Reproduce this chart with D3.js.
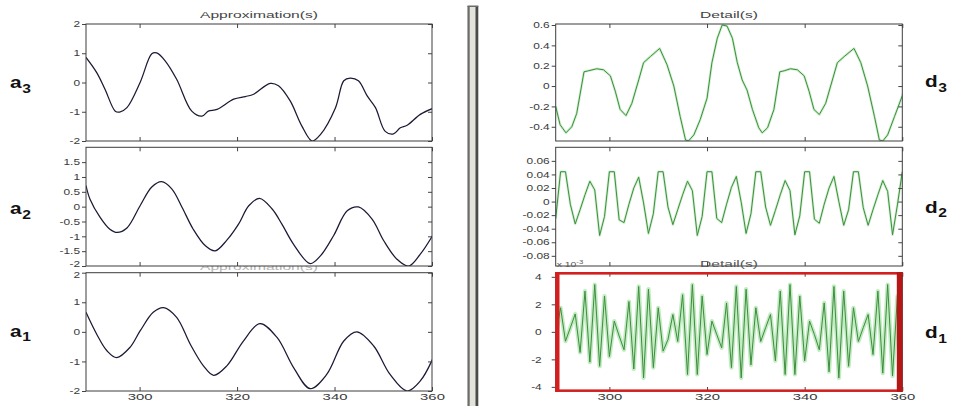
<!DOCTYPE html>
<html>
<head>
<meta charset="utf-8">
<script src="https://cdn.jsdelivr.net/npm/d3@7"></script>
<style>
  html, body { margin: 0; padding: 0; background: #fff; }
  svg { display: block; }
  .tick text { font-family: "Liberation Sans", Arial, sans-serif; font-size: 8.5px; fill: #3a3a3a; }
  .tick line { stroke: #444; }
</style>
</head>
<body>
<svg id="fig" width="969" height="406"></svg>
<script>
// ---- shared sample axis ----
const xDomain = [289, 360];
const xTicks = [300, 320, 340, 360];

// ---- approximation a3 ----
const a3T = [289, 291.2, 292.9, 295, 295.9, 297.4, 300.1, 302.5, 303.5, 305.2, 307.6, 310.7, 312.8, 314.1, 315.9, 319.3, 321.7, 323.4, 326.8, 328.5, 330.9, 333.3, 335.4, 337.1, 340.2, 341.9, 343.2, 344.9, 346.7, 348.4, 350.4, 352.1, 353.5, 354.9, 357.6, 360.1];
const a3V = [0.86, 0.34, -0.23, -0.98, -1.01, -0.86, 0, 0.98, 1.01, 0.75, 0.11, -0.98, -1.15, -0.98, -0.92, -0.57, -0.48, -0.40, -0.03, -0.11, -0.63, -1.49, -2.0, -1.78, -0.86, 0.06, 0.15, 0.06, -0.46, -0.86, -1.67, -1.76, -1.55, -1.46, -1.09, -0.89];
const a3Domain = [-2, 2];
const a3Ticks = [-2, -1, 0, 1, 2];

// ---- approximation a2 ----
const a2T = [289, 289.8, 291.9, 293.9, 295.4, 297.4, 300.1, 302.5, 304.5, 306.6, 308.7, 311, 313.5, 315.5, 317.9, 320.3, 322.4, 324.6, 327.2, 329.2, 331.6, 335, 337.1, 339.8, 342.6, 344.9, 347.7, 350.1, 352.8, 355.2, 357.6, 360.1];
const a2V = [0.71, 0.26, -0.36, -0.76, -0.87, -0.72, 0.03, 0.66, 0.84, 0.60, -0.02, -0.76, -1.32, -1.49, -1.13, -0.59, 0.03, 0.28, -0.08, -0.59, -1.27, -1.92, -1.66, -0.98, -0.14, -0.01, -0.42, -1.15, -1.77, -2.0, -1.60, -0.98];
const a2Domain = [-2, 2];
const a2Ticks = [-2, -1.5, -1, -0.5, 0, 0.5, 1, 1.5];

// ---- approximation a1 ----
const a1T = [289, 291.2, 293.3, 295.3, 298, 300.1, 302.8, 304.9, 307.6, 310.4, 313.1, 315.2, 317.9, 321.3, 324.7, 328.2, 331.6, 335, 338.4, 341.9, 344.6, 348, 351.4, 354.9, 357.6, 360.1];
const a1V = [0.66, -0.08, -0.64, -0.87, -0.53, 0.03, 0.66, 0.82, 0.49, -0.42, -1.15, -1.47, -1.15, -0.31, 0.28, -0.19, -1.21, -1.92, -1.44, -0.31, 0.0, -0.47, -1.44, -2.0, -1.66, -0.93];
const a1Domain = [-2, 2];
const a1Ticks = [-2, -1, 0, 1, 2];

// ---- detail d3 ----
const d3T = [289, 289.9, 291.1, 292.3, 293.3, 294.8, 295.7, 297.4, 298.8, 300.2, 301.2, 302.2, 303.4, 304.6, 306, 307, 308.4, 310.3, 311.8, 313.2, 314.5, 315.6, 316.2, 317.3, 318.6, 320, 321, 322.1, 323.1, 324.1, 325.2, 326.2, 327.2, 328.2, 329.3, 330.6, 331.3, 332.4, 333.7, 334.9, 335.8, 337.1, 338.5, 339.9, 340.9, 341.9, 343, 344.3, 346.7, 348.1, 350.1, 351.5, 352.9, 354.3, 355.3, 356, 357, 358.4, 360.2];
const d3V = [-0.20, -0.38, -0.46, -0.40, -0.27, 0.14, 0.15, 0.17, 0.16, 0.10, -0.05, -0.23, -0.29, -0.17, 0.06, 0.23, 0.29, 0.37, 0.21, 0.0, -0.30, -0.53, -0.54, -0.48, -0.33, -0.12, 0.23, 0.47, 0.60, 0.59, 0.47, 0.23, 0.06, -0.04, -0.23, -0.41, -0.46, -0.41, -0.23, 0.14, 0.15, 0.17, 0.16, 0.10, -0.05, -0.23, -0.28, -0.17, 0.23, 0.29, 0.37, 0.23, 0.0, -0.30, -0.53, -0.54, -0.48, -0.30, -0.07];
const d3Domain = [-0.54, 0.61];
const d3Ticks = [-0.4, -0.2, 0, 0.2, 0.4, 0.6];

// ---- detail d2 (one value per sample 289..360) ----
const d2V = [-0.025, 0.044, 0.044, -0.004, -0.033, -0.012, 0.010, 0.030, 0.017, -0.050,
             -0.022, 0.044, 0.044, -0.027, -0.031, -0.004, 0.020, 0.036, -0.002, -0.047,
             -0.018, 0.044, 0.044, -0.008, -0.034, -0.012, 0.010, 0.030, 0.016, -0.050,
             -0.022, 0.044, 0.044, -0.025, -0.031, -0.004, 0.021, 0.037, -0.001, -0.047,
             -0.018, 0.044, 0.044, -0.008, -0.035, -0.013, 0.010, 0.031, 0.016, -0.049,
             -0.021, 0.044, 0.044, -0.026, -0.032, -0.004, 0.020, 0.037, 0.000, -0.035,
             -0.012, 0.044, 0.044, -0.009, -0.035, -0.012, 0.010, 0.031, 0.015, -0.049,
             -0.005, 0.044];
const d2Domain = [-0.095, 0.08];
const d2Ticks = [-0.08, -0.06, -0.04, -0.02, 0, 0.02, 0.04, 0.06];

// ---- detail d1 (x 10^-3, one value per sample 289..360) ----
const d1V = [-0.3, 1.75, -0.68, 0.3, 1.3, -1.5, 2.96, -2.2, 3.44, -2.5,
             2.6, -1.8, 0.78, -0.3, -1.3, 2.2, -2.7, 3.3, -3.35, 3.1,
             -2.6, 1.75, -1.4, -0.56, 1.26, -0.7, 2.7, -3.1, 3.44, -3.1,
             2.6, -1.65, 0.78, -0.2, -1.16, 2.1, -2.6, 3.3, -3.35, 3.1,
             -2.4, 1.75, -0.7, 0.3, 1.26, -2.1, 2.96, -3.1, 3.44, -3.1,
             2.6, -2.1, 0.78, -0.2, -1.3, 2.1, -2.9, 3.3, -3.35, 2.96,
             -2.5, 1.75, -0.7, 0.3, 1.26, -1.65, 2.96, -3.0, 3.44, -3.2,
             2.6, -1.8];
const d1Domain = [-4.3, 4.3];
const d1Ticks = [-4, -2, 0, 2, 4];

const sampleT = d3.range(289, 361);

// ---------------------------------------------------------------
const svg = d3.select("#fig");
const defs = svg.append("defs");
const LABEL_SX = 1.4;    // horizontal stretch of tick labels
const XLABEL_SX = 1.75;

const fmt = d => String(d);

function stretchText(sel, sx) {
  sel.each(function () {
    const t = d3.select(this);
    const x = +t.attr("x") || 0;
    t.attr("x", x / sx).attr("transform", `scale(${sx},1)`);
  });
}

let clipId = 0;
function panel(opt) {
  const { x0, x1, y0, y1, yDomain, yTicks, showX, labelPad, nudge } = opt;
  const g = svg.append("g");
  const x = d3.scaleLinear().domain(xDomain).range([x0, x1]);
  const y = d3.scaleLinear().domain(yDomain).range([y1, y0]);

  g.append("rect").attr("x", x0).attr("y", y0).attr("width", x1 - x0).attr("height", y1 - y0)
    .attr("fill", "#fff");

  const id = "clip" + (clipId++);
  defs.append("clipPath").attr("id", id).append("rect")
    .attr("x", x0).attr("y", y0).attr("width", x1 - x0).attr("height", y1 - y0);
  const plot = g.append("g").attr("clip-path", `url(#${id})`);

  // left axis: outward ticks + labels
  const left = g.append("g").attr("transform", `translate(${x0},0)`)
    .call(d3.axisLeft(y).tickValues(yTicks).tickSize(4).tickPadding(labelPad || 2).tickFormat(fmt));
  left.select(".domain").remove();
  stretchText(left.selectAll("text"), LABEL_SX);
  if (nudge) {
    // keep the end labels of stacked panels apart
    left.selectAll("text").attr("dy", d => d === yTicks[0] ? (nudge.bottom || "0.32em") :
      d === yTicks[yTicks.length - 1] ? (nudge.top || "0.32em") : "0.32em");
  }

  // right axis: inward ticks only
  const right = g.append("g").attr("transform", `translate(${x1},0)`)
    .call(d3.axisRight(y).tickValues(yTicks).tickSize(-4).tickFormat(""));
  right.select(".domain").remove();

  // top axis: inward ticks
  const top = g.append("g").attr("transform", `translate(0,${y0})`)
    .call(d3.axisTop(x).tickValues(xTicks).tickSize(-4).tickFormat(""));
  top.select(".domain").remove();

  // bottom axis: inward ticks, labels on the lowest row
  const bottom = g.append("g").attr("transform", `translate(0,${y1})`)
    .call(d3.axisBottom(x).tickValues(xTicks).tickSize(-4).tickPadding(3)
      .tickFormat(showX ? fmt : ""));
  bottom.select(".domain").remove();
  stretchText(bottom.selectAll("text"), XLABEL_SX);

  g.append("rect").attr("x", x0).attr("y", y0).attr("width", x1 - x0).attr("height", y1 - y0)
    .attr("fill", "none").attr("stroke", "#3c3c3c").attr("stroke-width", 1);

  return { g, plot, x, y };
}

function title(text, cx, base, len, color) {
  svg.append("text").attr("x", cx).attr("y", base)
    .attr("text-anchor", "middle")
    .attr("font-family", "Liberation Sans, Arial, sans-serif")
    .attr("font-size", 9).attr("fill", color || "#444")
    .attr("textLength", len).attr("lengthAdjust", "spacingAndGlyphs")
    .text(text);
}

function rowLabel(letter, sub, x, base) {
  const t = svg.append("text")
    .attr("transform", `translate(${x},${base}) scale(1.3,1)`)
    .attr("font-family", "Liberation Sans, Arial, sans-serif")
    .attr("font-weight", "bold").attr("fill", "#111");
  t.append("tspan").attr("font-size", 16).text(letter);
  t.append("tspan").attr("font-size", 12).attr("dy", 4.5).attr("dx", 0.5).text(sub);
}

const LX0 = 86, LX1 = 432, RX0 = 555.7, RX1 = 902.3;
const ROWS = [[24, 141], [147.3, 266], [272.7, 391]];

function smoothLine(p, T, V) {
  const line = d3.line().x((d, i) => p.x(T[i])).y(d => p.y(d)).curve(d3.curveCatmullRom.alpha(0.5));
  p.plot.append("path").datum(V).attr("d", line)
    .attr("fill", "none").attr("stroke", "#1a1a36").attr("stroke-width", 1.25)
    .attr("stroke-linejoin", "round");
}

function greenLine(p, T, V, haloW, haloOp) {
  const line = d3.line().x((d, i) => p.x(T[i])).y(d => p.y(d));
  p.plot.append("path").datum(V).attr("d", line)
    .attr("fill", "none").attr("stroke", "#a6e2a6").attr("stroke-width", haloW)
    .attr("stroke-opacity", haloOp).attr("stroke-linejoin", "round");
  p.plot.append("path").datum(V).attr("d", line)
    .attr("fill", "none").attr("stroke", "#3e8c3e").attr("stroke-width", 1)
    .attr("stroke-linejoin", "round");
}

// ---------------- left column (approximations) ----------------
const pa1 = panel({ x0: LX0, x1: LX1, y0: ROWS[2][0], y1: ROWS[2][1], yDomain: a1Domain, yTicks: a1Ticks, showX: true, nudge: { top: "0.55em" } });
smoothLine(pa1, a1T, a1V);
// title of the lowest row sits mostly underneath the row above it
title("Approximation(s)", (LX0 + LX1) / 2, 269.5, 118, "#b4b4b4");

const pa2 = panel({ x0: LX0, x1: LX1, y0: ROWS[1][0], y1: ROWS[1][1], yDomain: a2Domain, yTicks: a2Ticks, showX: false, nudge: { bottom: "0.05em" } });
smoothLine(pa2, a2T, a2V);

const pa3 = panel({ x0: LX0, x1: LX1, y0: ROWS[0][0], y1: ROWS[0][1], yDomain: a3Domain, yTicks: a3Ticks, showX: false });
smoothLine(pa3, a3T, a3V);
title("Approximation(s)", (LX0 + LX1) / 2, 18, 118);

// ---------------- right column (details) ----------------
const pd3 = panel({ x0: RX0, x1: RX1, y0: ROWS[0][0], y1: ROWS[0][1], yDomain: d3Domain, yTicks: d3Ticks, showX: false });
greenLine(pd3, d3T, d3V, 2.6, 0.55);
title("Detail(s)", (RX0 + RX1) / 2, 18, 58);

const pd2 = panel({ x0: RX0, x1: RX1, y0: ROWS[1][0], y1: ROWS[1][1], yDomain: d2Domain, yTicks: d2Ticks, showX: false });
greenLine(pd2, sampleT, d2V, 2.6, 0.55);

const pd1 = panel({ x0: RX0, x1: RX1, y0: ROWS[2][0], y1: ROWS[2][1], yDomain: d1Domain, yTicks: d1Ticks, showX: true, labelPad: 10 });
greenLine(pd1, sampleT, d1V, 4.2, 0.7);

// highlighted frame around the finest detail level
const red = pd1.g.append("g");
red.append("rect").attr("x", RX0 - 0.5).attr("y", ROWS[2][0] - 0.7).attr("width", RX1 - RX0 + 1).attr("height", 2.6).attr("fill", "#d41f1f");
red.append("rect").attr("x", RX0 - 0.5).attr("y", ROWS[2][1] - 1.6).attr("width", RX1 - RX0 + 1).attr("height", 2.5).attr("fill", "#d41f1f");
red.append("rect").attr("x", RX0 - 0.5).attr("y", ROWS[2][0] - 0.7).attr("width", 4.3).attr("height", ROWS[2][1] - ROWS[2][0] + 1.6).attr("fill", "#d41f1f");
red.append("rect").attr("x", RX1 - 5.5).attr("y", ROWS[2][0] - 0.7).attr("width", 5.8).attr("height", ROWS[2][1] - ROWS[2][0] + 1.6).attr("fill", "#b51616");

title("Detail(s)", (RX0 + RX1) / 2, 267, 58, "#555");
const expo = svg.append("text")
  .attr("font-family", "Liberation Sans, Arial, sans-serif").attr("fill", "#555")
  .attr("transform", `translate(${RX0 + 1},267) scale(1.3,1)`);
expo.append("tspan").attr("font-size", 8).text("x 10");
expo.append("tspan").attr("font-size", 6).attr("dy", -3).text("-3");

// ---------------- row labels ----------------
rowLabel("a", "3", 10, 88);
rowLabel("a", "2", 10, 214);
rowLabel("a", "1", 10, 336.7);
rowLabel("d", "3", 925, 87.3);
rowLabel("d", "2", 925, 212.7);
rowLabel("d", "1", 925, 338.3);

// ---------------- splitter between the two columns ----------------
const bar = svg.append("g");
bar.append("rect").attr("x", 467.5).attr("y", 6).attr("width", 10.5).attr("height", 410)
  .attr("fill", "#e3e3db");
bar.append("rect").attr("x", 467.5).attr("y", 6).attr("width", 2.2).attr("height", 410).attr("fill", "#6b6b6b");
bar.append("rect").attr("x", 475.5).attr("y", 6).attr("width", 2.8).attr("height", 410).attr("fill", "#4a4a4a");
bar.append("rect").attr("x", 467.5).attr("y", 5.5).attr("width", 10.8).attr("height", 1.5).attr("fill", "#6b6b6b");
</script>
</body>
</html>
